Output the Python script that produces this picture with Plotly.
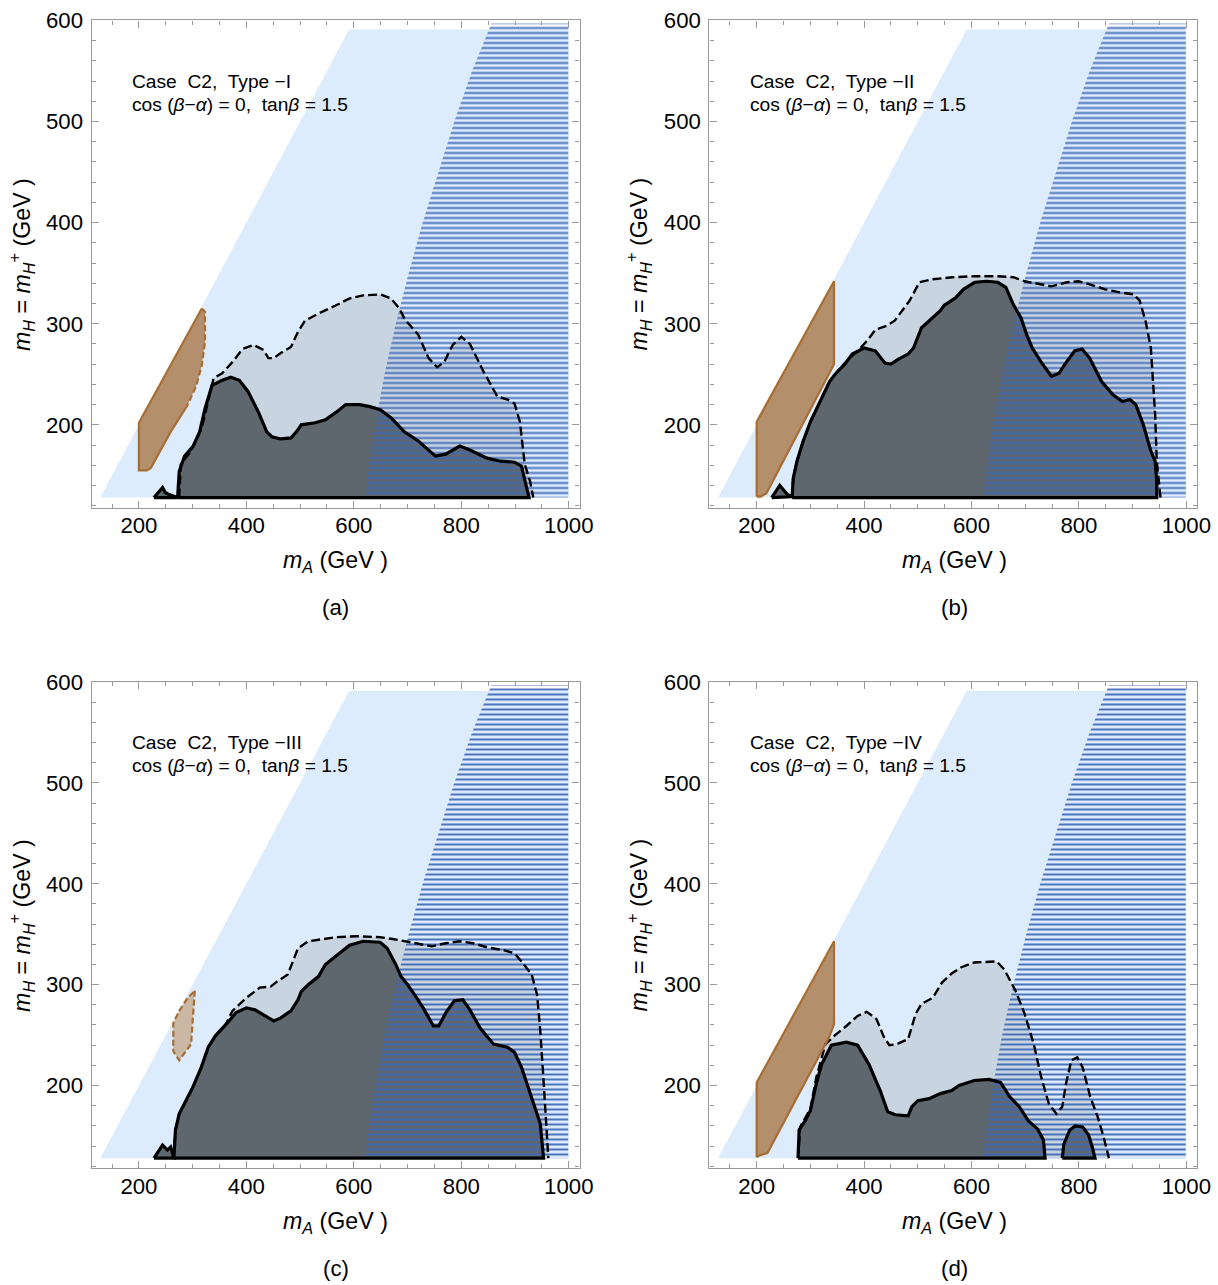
import plotly.graph_objects as go

# ---------------- axes ----------------
X_RANGE = [112, 1020]
Y_RANGE = [118, 600]
X_TICKS = [200, 400, 600, 800, 1000]
Y_TICKS = [200, 300, 400, 500, 600]

# light-blue region (mA >= mH)
ALLOWED_MA = [128, 1000, 1000, 591]
ALLOWED_MH = [128, 128, 591, 591]

# dotted (blue grid) region: left boundary
DOT_MH = [128, 150, 200, 250, 300, 350, 400, 450, 500, 550, 597]
DOT_MA = [622, 626, 640, 657, 678, 702, 728, 757, 787, 820, 856]
DOT_RIGHT = 999

# ---------------- panel (a) Type-I ----------------
SOLID_A_MA = [272, 275, 285, 301, 313, 323, 336, 355, 371, 387, 403, 422, 438, 448, 464, 483, 496, 502, 528, 547,
              566, 585, 611, 630, 649, 669, 694, 720, 739, 752, 771, 797, 816, 848, 873, 899, 912, 921, 926]
SOLID_A_MH = [128, 154, 169, 179, 193, 216, 239, 244, 247, 244, 233, 213, 193, 188, 186, 187, 195, 200, 202, 205,
              212, 220, 220, 218, 215, 207, 193, 184, 175, 169, 171, 179, 175, 167, 164, 163, 159, 141, 128]
DASH_A_MA = [275, 278, 297, 317, 339, 355, 374, 393, 413, 432, 441, 451, 464, 483, 496, 509, 534, 547, 566, 592,
             617, 649, 669, 685, 694, 720, 739, 755, 768, 784, 800, 816, 841, 867, 886, 899, 909, 918, 928, 934]
DASH_A_MH = [128, 161, 174, 197, 246, 251, 262, 275, 279, 274, 266, 266, 271, 277, 292, 303, 310, 313, 318, 325,
             328, 329, 325, 315, 305, 289, 266, 257, 262, 279, 287, 280, 253, 228, 225, 221, 203, 161, 144, 128]
BROWN_A_MA = [215, 200, 200, 317, 323, 323, 317, 307, 291, 259, 222]
BROWN_A_MH = [155, 155, 202, 315, 312, 282, 259, 239, 220, 193, 157]
TRI_A_MA = [228, 244, 249, 256, 272]
TRI_A_MH = [128, 138, 133, 131, 128]

# ---------------- panel (b) Type-II ----------------
SOLID_B_MA = [266, 268, 275, 286, 300, 318, 336, 346, 364, 378, 400, 421, 439, 450, 464, 482, 492, 507, 528, 542,
              549, 571, 585, 606, 628, 649, 664, 678, 692, 703, 713, 731, 749, 763, 774, 792, 806, 820, 842, 863,
              881, 895, 906, 920, 934, 942, 945, 945]
SOLID_B_MH = [128, 147, 164, 183, 203, 223, 243, 250, 260, 270, 276, 273, 261, 260, 265, 270, 276, 296, 306, 313,
              318, 326, 334, 341, 342, 341, 336, 319, 306, 289, 276, 261, 248, 251, 260, 273, 275, 266, 243, 230,
              223, 225, 220, 200, 174, 164, 144, 128]
DASH_B_MA = [266, 268, 275, 286, 300, 318, 336, 346, 364, 393, 407, 421, 442, 457, 471, 485, 503, 528, 564, 606,
             649, 678, 699, 721, 749, 778, 799, 820, 849, 877, 902, 913, 924, 934, 942, 945, 952]
DASH_B_MH = [128, 147, 164, 183, 203, 223, 243, 250, 261, 276, 284, 294, 298, 303, 313, 323, 341, 344, 346, 347,
             347, 346, 342, 340, 337, 341, 342, 339, 334, 331, 329, 323, 303, 276, 210, 164, 128]
BROWN_B_MA = [200, 200, 344, 344, 218, 207]
BROWN_B_MH = [129, 203, 342, 260, 132, 129]
TRI_B_MA = [228, 243, 257, 266]
TRI_B_MH = [128, 140, 131, 129]

# ---------------- panel (c) Type-III ----------------
SOLID_C_MA = [265, 268, 275, 288, 300, 316, 329, 342, 355, 368, 380, 400, 416, 432, 451, 464, 483, 496, 502, 515,
              534, 547, 566, 579, 592, 617, 649, 662, 678, 688, 700, 713, 729, 748, 758, 771, 787, 803, 816, 835,
              860, 886, 899, 912, 931, 947, 953]
SOLID_C_MH = [128, 156, 172, 185, 198, 218, 238, 249, 256, 264, 272, 277, 275, 270, 264, 267, 274, 285, 293, 300,
              308, 320, 328, 334, 339, 343, 342, 336, 320, 308, 300, 290, 277, 259, 259, 272, 284, 285, 275, 257,
              241, 238, 233, 218, 188, 162, 128]
DASH_C_MA = [265, 268, 275, 288, 300, 316, 329, 342, 355, 361, 374, 400, 425, 445, 457, 477, 496, 515, 541, 566,
             605, 649, 675, 694, 720, 745, 771, 797, 822, 848, 880, 899, 912, 931, 941, 947, 953, 958, 962]
DASH_C_MH = [128, 156, 172, 185, 198, 218, 238, 249, 256, 260, 274, 287, 297, 298, 303, 310, 336, 343, 345, 347,
             348, 347, 345, 343, 341, 338, 341, 343, 341, 337, 334, 331, 323, 310, 290, 254, 205, 159, 128]
BROWN_C_MA = [304, 302, 297, 275, 264, 264, 275, 291]
BROWN_C_MH = [294, 280, 241, 225, 234, 262, 274, 287]
TRI_C_MA = [228, 244, 253, 259, 265]
TRI_C_MH = [128, 141, 136, 139, 128]

# ---------------- panel (d) Type-IV ----------------
SOLID_D_MA = [277, 279, 290, 300, 311, 321, 339, 367, 388, 409, 430, 444, 458, 482, 489, 500, 521, 542, 563, 577,
              605, 633, 654, 671, 689, 706, 723, 734, 737]
SOLID_D_MH = [128, 156, 165, 175, 202, 221, 240, 243, 240, 221, 195, 174, 171, 170, 179, 185, 187, 192, 195, 200,
              205, 206, 203, 189, 179, 165, 157, 146, 128]
ISLAND_D_MA = [769, 772, 783, 793, 807, 818, 825, 830]
ISLAND_D_MH = [128, 142, 156, 160, 159, 151, 139, 128]
DASH_D_MA = [277, 281, 300, 311, 328, 346, 367, 388, 405, 423, 437, 447, 461, 482, 496, 507, 528, 545, 563, 580,
             605, 647, 661, 682, 699, 716, 730, 744, 758, 769, 776, 786, 797, 807, 821, 835, 846, 856]
DASH_D_MH = [128, 159, 177, 208, 241, 250, 259, 269, 273, 266, 248, 240, 241, 246, 271, 281, 287, 302, 311, 317,
             322, 323, 315, 294, 271, 241, 208, 182, 172, 179, 202, 225, 228, 218, 189, 169, 149, 128]
BROWN_D_MA = [200, 200, 344, 344, 335, 220, 207]
BROWN_D_MH = [129, 203, 343, 261, 248, 133, 131]

TYPE_LABELS = ["Type \u2212I", "Type \u2212II", "Type \u2212III", "Type \u2212IV"]
PANEL_LETTERS = ["(a)", "(b)", "(c)", "(d)"]

# ---------------- styles ----------------
C_LIGHTBLUE = "#dcecfc"
C_DASHFILL = "#c8d5e1"
C_DARK = "#5e666e"
C_BROWN_FILL = "#b48f6b"
C_BROWN_LIGHT = "#cbb8a4"
C_BROWN_LINE = "#a86d33"
C_DOT = "rgba(62,104,182,0.92)"
AXIS_GRAY = "#9a9a9a"
FONT = "Liberation Sans, Arial, sans-serif"

W, H = 1218, 1285
# the page is photographed slightly reduced and shifted down; map target pixels to paper coords
SX, SY, OFFY = 0.9893, 0.9907, 12.0


def PX(ox):
    return (ox / SX) / W


def PY(oy):
    return 1 - ((oy - OFFY) / SY) / H


def FS(s):
    return round(s / SX, 1)


XDOM = [[PX(91.7), PX(580)], [PX(710), PX(1198)]]
YDOM = [[PY(507.7), PY(20.5)], [PY(1168.3), PY(682)]]
XTITLE_Y = [PY(562), PY(1223)]
LETTER_Y = [PY(608), PY(1269)]
XCENTER = [PX(336), PX(955)]
YTITLE_X = [PX(22), PX(640)]
YTITLE_Y = [PY(264), PY(925)]

fig = go.Figure()


def poly(xs, ys, ax, ay, fill=None, line_color=None, width=0, dash=None, closed=False, pattern=None):
    xs = list(xs)
    ys = list(ys)
    if closed:
        xs = xs + [xs[0]]
        ys = ys + [ys[0]]
    kw = dict(x=xs, y=ys, xaxis=ax, yaxis=ay, mode="lines", hoverinfo="skip", showlegend=False)
    if fill is not None or pattern is not None:
        kw["fill"] = "toself"
        kw["fillcolor"] = fill if fill is not None else "rgba(0,0,0,0)"
    if pattern is not None:
        kw["fillpattern"] = pattern
    if line_color is None or width == 0:
        kw["line"] = dict(width=0, color="rgba(0,0,0,0)")
    else:
        ld = dict(color=line_color, width=width)
        if dash:
            ld["dash"] = dash
        kw["line"] = ld
    fig.add_trace(go.Scatter(**kw))


panels = [
    dict(solid=[(SOLID_A_MA, SOLID_A_MH)], dash=(DASH_A_MA, DASH_A_MH), brown=(BROWN_A_MA, BROWN_A_MH),
         tri=(TRI_A_MA, TRI_A_MH), brown_style="a"),
    dict(solid=[(SOLID_B_MA, SOLID_B_MH)], dash=(DASH_B_MA, DASH_B_MH), brown=(BROWN_B_MA, BROWN_B_MH),
         tri=(TRI_B_MA, TRI_B_MH), brown_style="solid"),
    dict(solid=[(SOLID_C_MA, SOLID_C_MH)], dash=(DASH_C_MA, DASH_C_MH), brown=(BROWN_C_MA, BROWN_C_MH),
         tri=(TRI_C_MA, TRI_C_MH), brown_style="dashed"),
    dict(solid=[(SOLID_D_MA, SOLID_D_MH), (ISLAND_D_MA, ISLAND_D_MH)], dash=(DASH_D_MA, DASH_D_MH),
         brown=(BROWN_D_MA, BROWN_D_MH), tri=None, brown_style="solid"),
]

annotations = []
layout_axes = {}
for i, p in enumerate(panels):
    n = "" if i == 0 else str(i + 1)
    ax, ay = "x" + n, "y" + n
    col, row = i % 2, i // 2
    xd, yd = XDOM[col], YDOM[row]
    common = dict(showline=True, linecolor=AXIS_GRAY, linewidth=1.3, mirror="allticks", ticks="inside",
                  tickcolor=AXIS_GRAY, tickwidth=1.1, ticklen=7, showgrid=False, zeroline=False,
                  tickfont=dict(family=FONT, size=FS(22), color="black"))
    layout_axes["xaxis" + n] = dict(domain=xd, range=X_RANGE, anchor=ay, tickvals=X_TICKS, ticklabelstandoff=-2,
                                    minor=dict(ticks="inside", dtick=50, tick0=0, ticklen=4,
                                               tickcolor=AXIS_GRAY, tickwidth=1), **common)
    layout_axes["yaxis" + n] = dict(domain=yd, range=Y_RANGE, anchor=ax, tickvals=Y_TICKS, ticklabelstandoff=3,
                                    minor=dict(ticks="inside", dtick=20, tick0=0, ticklen=4,
                                               tickcolor=AXIS_GRAY, tickwidth=1), **common)

    poly(ALLOWED_MA, ALLOWED_MH, ax, ay, fill=C_LIGHTBLUE)
    dma, dmh = p["dash"]
    poly(dma, dmh, ax, ay, fill=C_DASHFILL)
    for sma, smh in p["solid"]:
        poly(sma, smh, ax, ay, fill=C_DARK)
    if p["tri"] is not None:
        poly(p["tri"][0], p["tri"][1], ax, ay, fill=C_DARK)
    bma, bmh = p["brown"]
    poly(bma, bmh, ax, ay, fill=C_BROWN_LIGHT if p["brown_style"] == "dashed" else C_BROWN_FILL)
    dot_x = list(DOT_MA) + [DOT_RIGHT, DOT_RIGHT]
    dot_y = list(DOT_MH) + [DOT_MH[-1], DOT_MH[0]]
    poly(dot_x, dot_y, ax, ay, pattern=dict(shape="-", fgcolor=C_DOT, bgcolor="rgba(0,0,0,0)",
                                            size=5, solidity=0.4, fillmode="replace"))
    poly(dma, dmh, ax, ay, line_color="black", width=2.4, dash="9px,4px")
    for sma, smh in p["solid"]:
        poly(sma, smh, ax, ay, line_color="black", width=3.2, closed=True)
    if p["tri"] is not None:
        poly(p["tri"][0], p["tri"][1], ax, ay, line_color="black", width=3.2, closed=True)
    if p["brown_style"] == "a":
        poly(bma[8:] + bma[:4], bmh[8:] + bmh[:4], ax, ay, line_color=C_BROWN_LINE, width=2.2)
        poly(bma[3:9], bmh[3:9], ax, ay, line_color=C_BROWN_LINE, width=2.2, dash="6px,3px")
    elif p["brown_style"] == "dashed":
        poly(bma, bmh, ax, ay, line_color=C_BROWN_LINE, width=2.2, dash="6px,3px", closed=True)
    else:
        poly(bma, bmh, ax, ay, line_color=C_BROWN_LINE, width=2.2, closed=True)

    annotations.append(dict(xref=ax, yref=ay, x=183, y=540, xanchor="left", yanchor="middle", showarrow=False,
                            text="Case  C2,  " + TYPE_LABELS[i],
                            font=dict(family=FONT, size=FS(19), color="black")))
    annotations.append(dict(xref=ax, yref=ay, x=184, y=517, xanchor="left", yanchor="middle", showarrow=False,
                            text="cos (<i>\u03b2</i>\u2212<i>\u03b1</i>) = 0,  tan<i>\u03b2</i> = 1.5",
                            font=dict(family=FONT, size=FS(19), color="black")))
    annotations.append(dict(xref="paper", yref="paper", x=XCENTER[col], y=XTITLE_Y[row], xanchor="center",
                            yanchor="middle", showarrow=False,
                            text="<i>m</i><sub><i>A</i></sub> (GeV )",
                            font=dict(family=FONT, size=FS(23), color="black")))
    annotations.append(dict(xref="paper", yref="paper", x=YTITLE_X[col], y=YTITLE_Y[row],
                            xanchor="center", yanchor="middle", showarrow=False, textangle=-90,
                            text="<i>m</i><sub><i>H</i></sub> = <i>m</i><sub><i>H</i></sub><sup>+</sup> (GeV )",
                            font=dict(family=FONT, size=FS(23), color="black")))
    annotations.append(dict(xref="paper", yref="paper", x=XCENTER[col], y=LETTER_Y[row], xanchor="center",
                            yanchor="middle", showarrow=False, text=PANEL_LETTERS[i],
                            font=dict(family=FONT, size=FS(22), color="black")))

fig.update_layout(width=W, height=H, margin=dict(l=0, r=0, t=0, b=0), autosize=False,
                  paper_bgcolor="white", plot_bgcolor="white", annotations=annotations,
                  **layout_axes)

fig.write_html("out.html")
